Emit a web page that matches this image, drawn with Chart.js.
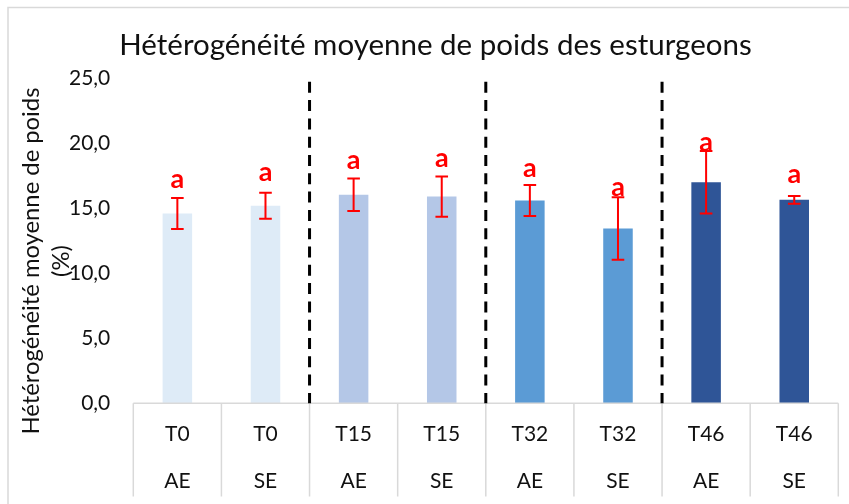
<!DOCTYPE html>
<html><head><meta charset="utf-8">
<script src="https://cdn.jsdelivr.net/npm/chart.js@4.4.1/dist/chart.umd.min.js"></script>
<style>html,body{margin:0;padding:0;background:#fff}canvas{display:block}</style>
</head><body>
<canvas id="c" width="849" height="504"></canvas>
<script>
const titleText = 'Hétérogénéité moyenne de poids des esturgeons';
const yTitleLines = ['Hétérogénéité moyenne de poids', '(%)'];
const times = ['T0','T0','T15','T15','T32','T32','T46','T46'];
const groups = ['AE','SE','AE','SE','AE','SE','AE','SE'];
const means = [14.6, 15.2, 16.05, 15.9, 15.6, 13.45, 17.0, 15.65];
const errors = [1.2, 1.0, 1.25, 1.55, 1.2, 2.4, 2.4, 0.3];
const letters = ['a','a','a','a','a','a','a','a'];
const letterPos = [17.25, 17.75, 18.7, 18.85, 18.1, 16.65, 20.1, 17.6];
const yTicks = [0, 5, 10, 15, 20, 25];
const barColors = ['#DEEBF7','#DEEBF7','#B4C7E7','#B4C7E7','#5B9BD5','#5B9BD5','#2F5597','#2F5597'];

const FONT = 'Lato';
const TEXT = '#111';

const overlay = {
  id: 'overlay',
  beforeDraw(chart) {
    const ctx = chart.ctx;
    ctx.save();
    ctx.fillStyle = '#fff';
    ctx.fillRect(0, 0, chart.width, chart.height);
    ctx.strokeStyle = '#D9D9D9';
    ctx.lineWidth = 1.5;
    ctx.strokeRect(8, 7.5, chart.width + 20, chart.height + 20);
    ctx.restore();
  },
  afterDatasetsDraw(chart) {
    const ctx = chart.ctx;
    const x = chart.scales.x, y = chart.scales.y;
    const area = chart.chartArea;
    const n = times.length;
    const catW = (area.right - area.left) / n;
    ctx.save();
    // category axis lines
    ctx.strokeStyle = '#D9D9D9';
    ctx.lineWidth = 1.5;
    ctx.beginPath();
    ctx.moveTo(area.left, y.bottom);
    ctx.lineTo(area.right, y.bottom);
    for (let i = 0; i <= n; i++) {
      const px = area.left + i * catW;
      ctx.moveTo(px, y.bottom);
      ctx.lineTo(px, 496.5);
    }
    ctx.stroke();
    // dashed group separators
    ctx.strokeStyle = '#000';
    ctx.lineWidth = 3;
    ctx.setLineDash([11, 7.3]);
    for (let i = 0; i < n - 1; i++) {
      if (times[i] !== times[i + 1]) {
        const px = (x.getPixelForValue(i) + x.getPixelForValue(i + 1)) / 2;
        ctx.beginPath();
        ctx.moveTo(px, y.top + 3.5);
        ctx.lineTo(px, y.bottom);
        ctx.stroke();
      }
    }
    ctx.setLineDash([]);
    // error bars
    ctx.strokeStyle = '#FF0000';
    ctx.lineWidth = 2;
    for (let i = 0; i < n; i++) {
      const cx = x.getPixelForValue(i);
      const t = y.getPixelForValue(means[i] + errors[i]);
      const b = y.getPixelForValue(means[i] - errors[i]);
      ctx.beginPath();
      ctx.moveTo(cx, t); ctx.lineTo(cx, b);
      ctx.moveTo(cx - 6.3, t); ctx.lineTo(cx + 6.3, t);
      ctx.moveTo(cx - 6.3, b); ctx.lineTo(cx + 6.3, b);
      ctx.stroke();
    }
    // letters
    ctx.fillStyle = '#FF0000';
    ctx.font = 'bold 27px ' + FONT;
    ctx.textAlign = 'center';
    ctx.textBaseline = 'middle';
    for (let i = 0; i < n; i++) {
      ctx.fillText(letters[i], x.getPixelForValue(i), y.getPixelForValue(letterPos[i]));
    }
    // y axis title
    ctx.fillStyle = TEXT;
    ctx.font = '23.8px ' + FONT;
    ctx.textBaseline = 'alphabetic';
    ctx.translate(38.5, 261);
    ctx.rotate(-Math.PI / 2);
    ctx.fillText(yTitleLines[0], 0, 0);
    ctx.fillText(yTitleLines[1], 0, 30.5);
    ctx.restore();
  }
};

new Chart(document.getElementById('c'), {
  type: 'bar',
  data: {
    labels: times.map((t, i) => [t, groups[i]]),
    datasets: [{
      data: means,
      backgroundColor: barColors,
      borderWidth: 0,
      barPercentage: 0.335,
      categoryPercentage: 1
    }]
  },
  options: {
    responsive: false,
    animation: false,
    devicePixelRatio: 1,
    layout: { padding: { left: 32.7, right: 10.7, top: 0, bottom: 0 } },
    plugins: {
      legend: { display: false },
      tooltip: { enabled: false },
      title: {
        display: true,
        text: titleText,
        color: TEXT,
        font: { family: FONT, size: 29.5, weight: 'normal', lineHeight: 1.2 },
        padding: { top: 28.1, bottom: 14.8 }
      }
    },
    scales: {
      x: {
        grid: { display: false, drawTicks: false },
        border: { display: false },
        ticks: {
          color: TEXT,
          font: { family: FONT, size: 21, lineHeight: 2.24 },
          padding: 7.2,
          maxRotation: 0,
          autoSkip: false
        },
        afterFit(s) { s.height = 100.7; }
      },
      y: {
        min: 0,
        max: 25,
        grid: { display: false, drawTicks: false },
        border: { display: false },
        afterBuildTicks(s) { s.ticks = yTicks.map(v => ({ value: v })); },
        ticks: {
          color: TEXT,
          font: { family: FONT, size: 21 },
          padding: 23,
          callback: v => v.toFixed(1).replace('.', ',')
        },
        afterFit(s) { s.width = 100.6; }
      }
    }
  },
  plugins: [overlay]
});
</script>
</body></html>
